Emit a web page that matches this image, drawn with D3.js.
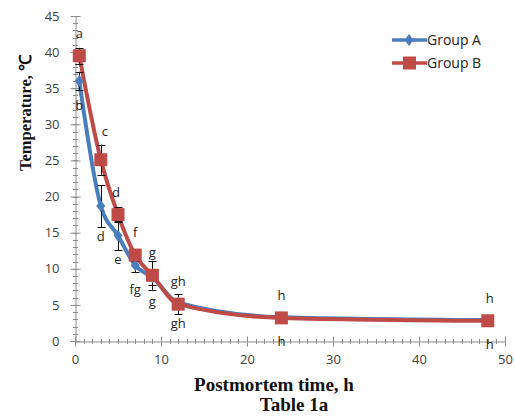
<!DOCTYPE html>
<html><head><meta charset="utf-8">
<script src="https://cdn.jsdelivr.net/npm/d3@7"></script>
<style>body{margin:0;background:#fff}svg{display:block}</style>
</head><body>
<svg id="c" width="515" height="420"></svg>
<script>
const times = [0.5, 3, 5, 7, 9, 12, 24, 48];
const groupA = [36.0, 18.7, 14.6, 10.5, 8.8, 5.3, 3.3, 2.9];
const groupB = [39.5, 25.1, 17.5, 11.9, 9.1, 5.1, 3.2, 2.8];
const errA = [1.3, 2.9, 2.0, 1.0, 1.1, 0.6, 0.3, 0.3];
const errB = [1.1, 2.1, 1.0, 0.8, 2.0, 1.4, 0.4, 0.3];
const lettersA = ["b", "d", "e", "fg", "g", "gh", "h", "h"];
const lettersB = ["a", "c", "d", "f", "g", "gh", "h", "h"];
const xTicks = [0, 10, 20, 30, 40, 50];
const yTicks = [0, 5, 10, 15, 20, 25, 30, 35, 40, 45];
const seriesNames = ["Group A", "Group B"];

const svg = d3.select("#c");
const x = d3.scaleLinear().domain([0, 50]).range([75, 505]);
const y = d3.scaleLinear().domain([0, 45]).range([341, 16]);
const axisCol = "#8c8c8c";

// minor ticks
const gm = svg.append("g").attr("stroke", axisCol).attr("stroke-width", 1);
d3.range(0, 51, 1).forEach(v => {
  gm.append("line").attr("x1", Math.round(x(v)) + 0.5).attr("x2", Math.round(x(v)) + 0.5).attr("y1", y(0) - 2).attr("y2", y(0) + 3);
});
d3.range(0, 46, 1).forEach(v => {
  gm.append("line").attr("y1", Math.round(y(v)) + 0.5).attr("y2", Math.round(y(v)) + 0.5).attr("x1", x(0) - 2).attr("x2", x(0) + 3);
});

// axes
const xAxis = svg.append("g").attr("transform", `translate(0,${Math.round(y(0)) + 0.5})`)
  .call(d3.axisBottom(x).tickValues(xTicks).tickSize(5).tickSizeOuter(0));
const yAxis = svg.append("g").attr("transform", `translate(${Math.round(x(0)) + 0.5},0)`)
  .call(d3.axisLeft(y).tickValues(yTicks).tickSize(5).tickSizeOuter(0));
[xAxis, yAxis].forEach(g => {
  g.select(".domain").attr("stroke", axisCol);
  g.selectAll(".tick line").attr("stroke", axisCol);
  g.selectAll(".tick text").attr("fill", "#404040").style("font-family", "'Open Sans', sans-serif").style("font-size", "13px");
});
xAxis.selectAll(".tick line").attr("y1", -5);
xAxis.selectAll(".tick text").attr("dy", "1.15em");
yAxis.selectAll(".tick line").attr("x1", 5);
yAxis.selectAll(".tick text").attr("x", -16);

const line = d3.line().x(d => x(d[0])).y(d => y(d[1])).curve(d3.curveMonotoneX);
const dataA = times.map((t, i) => [t, groupA[i], errA[i], lettersA[i]]);
const dataB = times.map((t, i) => [t, groupB[i], errB[i], lettersB[i]]);
const blue = "#4a7ebb", red = "#be4b48";

svg.append("path").datum(dataA).attr("d", line).attr("fill", "none").attr("stroke", blue).attr("stroke-width", 4);
svg.append("path").datum(dataB).attr("d", line).attr("fill", "none").attr("stroke", red).attr("stroke-width", 4);

function errBars(data) {
  const g = svg.append("g").attr("stroke", "#111").attr("stroke-width", 1);
  data.forEach(d => {
    const cx = Math.round(x(d[0])) + 0.5;
    g.append("line").attr("x1", cx).attr("x2", cx).attr("y1", y(d[1] - d[2])).attr("y2", y(d[1] + d[2]));
    [d[1] - d[2], d[1] + d[2]].forEach(v => {
      const yy = Math.round(y(v)) + 0.5;
      g.append("line").attr("x1", cx - 4).attr("x2", cx + 4).attr("y1", yy).attr("y2", yy);
    });
  });
}
errBars(dataA);
errBars(dataB);

const diamond = d3.symbol().type(d3.symbolDiamond2).size(80);
svg.append("g").selectAll("path").data(dataA).join("path")
  .attr("d", diamond).attr("transform", d => `translate(${x(d[0])},${y(d[1])}) scale(0.8,1.05)`).attr("fill", blue);
svg.append("g").selectAll("rect").data(dataB).join("rect")
  .attr("x", d => x(d[0]) - 6.5).attr("y", d => y(d[1]) - 6.5).attr("width", 13).attr("height", 13).attr("fill", red);

// letters (placed above Group B points, below Group A points)
const lf = "'Open Sans', sans-serif";
const tweakB = [0, -6, 0, 0, 0, 0, 0, 0];
const tweakBx = [0, 4, -2, 0, 0, 0, 0, 2];
const tweakA = [0, 6, -1, 0, 0, -4, 0, 0];
svg.append("g").selectAll("text").data(dataB).join("text")
  .attr("x", (d, i) => x(d[0]) + tweakBx[i])
  .attr("y", (d, i) => y(d[1]) - 18 + tweakB[i])
  .attr("text-anchor", "middle").style("font-family", lf).style("font-size", "13px").attr("fill", "#222")
  .text(d => d[3]);
svg.append("g").selectAll("text").data(dataA).join("text")
  .attr("x", d => x(d[0]) + (d[0] === 48 ? 2 : 0))
  .attr("y", (d, i) => y(d[1]) + 29 + tweakA[i])
  .attr("text-anchor", "middle").style("font-family", lf).style("font-size", "13px").attr("fill", "#222")
  .text(d => d[3]);

// legend
const lg = svg.append("g");
[[blue, "d"], [red, "s"]].forEach((c, i) => {
  const yy = 40 + i * 23;
  lg.append("line").attr("x1", 392).attr("x2", 427).attr("y1", yy).attr("y2", yy).attr("stroke", c[0]).attr("stroke-width", 3.5);
  if (c[1] === "d") lg.append("path").attr("d", diamond).attr("transform", `translate(409,${yy}) scale(0.8,1.05)`).attr("fill", c[0]);
  else lg.append("rect").attr("x", 403).attr("y", yy - 6.5).attr("width", 13).attr("height", 13).attr("fill", c[0]);
  lg.append("text").attr("x", 427).attr("y", yy + 5).style("font-family", lf).style("font-size", "14px").attr("fill", "#222").text(seriesNames[i]);
});

// axis titles
const serif = "'Liberation Serif', 'Times New Roman', serif";
svg.append("text").attr("transform", "translate(31,113) rotate(-90)").attr("text-anchor", "middle")
  .style("font-family", serif).style("font-weight", "bold").style("font-size", "16.5px").attr("fill", "#111").text("Temperature, ℃");
svg.append("text").attr("x", 274).attr("y", 391).attr("text-anchor", "middle")
  .style("font-family", serif).style("font-weight", "bold").style("font-size", "19px").attr("fill", "#111").text("Postmortem time, h");
svg.append("text").attr("x", 294).attr("y", 411).attr("text-anchor", "middle")
  .style("font-family", serif).style("font-weight", "bold").style("font-size", "19px").attr("fill", "#111").text("Table 1a");
</script>
</body></html>
